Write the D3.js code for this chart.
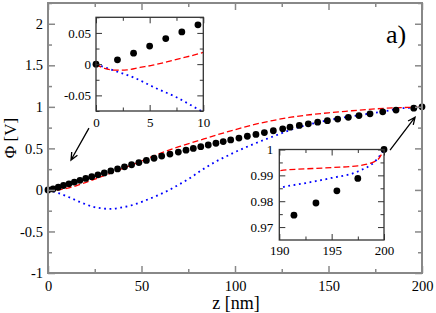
<!DOCTYPE html>
<html>
<head>
<meta charset="utf-8">
<script src="https://cdn.jsdelivr.net/npm/d3@7"></script>
<style>
body { margin: 0; background: #fff; }
svg text { font-family: "Liberation Serif", "Times New Roman", Tinos, "DejaVu Serif", serif; }
</style>
</head>
<body>
<svg width="436" height="313"></svg>
<script>
// main panel symbols (Phi vs z)
const mainZ = [0, 2.7, 5.5, 8.3, 11.2, 14.1, 17.1, 20.2, 23.4, 26.7, 30.1, 33.6, 37.2, 40.9, 44.7, 48.6, 52.6, 56.7,
	60.8, 65.2, 69.7, 73.8, 77.7, 81.7, 85.7, 89.8, 93.7, 97.7, 102.1, 106.6, 111.2, 115.7, 120.5, 125.5,
	129.4, 134.4, 139.2, 144.2, 149.4, 154.9, 160.6, 166.3, 172.2, 179.0, 186.1, 195.6, 200]
const mainPhi = [0, 0.011, 0.032, 0.053, 0.074, 0.095, 0.116, 0.138, 0.16, 0.182, 0.205, 0.229, 0.253, 0.278, 0.303, 0.329, 0.355, 0.381,
	0.408, 0.432, 0.456, 0.478, 0.499, 0.52, 0.541, 0.562, 0.582, 0.602, 0.624, 0.646, 0.668, 0.69, 0.712, 0.735,
	0.755, 0.776, 0.796, 0.816, 0.834, 0.853, 0.874, 0.895, 0.916, 0.94, 0.961, 0.984, 1.0]

// symbols shown in the insets
const leftInsetZ = [0, 2.0, 3.5, 5.0, 6.5, 8.0, 9.5]
const leftInsetPhi = [0, 0.0069, 0.0176, 0.029, 0.041, 0.0516, 0.063]
const rightInsetZ = [191.4, 193.5, 195.5, 197.5, 200]
const rightInsetPhi = [0.9746, 0.9793, 0.984, 0.9888, 1.0]

// red dashed curve
const redZ = [0, 0.8, 1.8, 2.9, 4.1, 5.3, 6.6, 7.8, 9.1, 10, 15, 20, 30, 40, 50, 60, 70, 80, 90, 100,
	110, 120, 130, 140, 150, 160, 170, 180, 190, 195, 197.5, 199.3, 200]
const redPhi = [0, -0.0069, -0.0096, -0.0091, -0.0053, -0.0016, 0.0037, 0.009, 0.0144, 0.0187, 0.05, 0.088, 0.172, 0.258, 0.348, 0.44, 0.52, 0.59, 0.66, 0.725,
	0.785, 0.835, 0.875, 0.905, 0.928, 0.948, 0.967, 0.982, 0.9918, 0.993, 0.9937, 0.9957, 1.0]

// blue dotted curve
const blueZ = [0, 1.3, 3.6, 5.65, 7.5, 9.5, 12, 17, 21, 24, 28, 33, 39, 45, 51, 58, 64, 70.6, 76, 81.3,
	85, 90, 95, 100, 105, 110, 120, 125, 130, 140, 150, 160, 170, 180, 190, 192.5, 195, 197.5, 199.3, 200]
const bluePhi = [0, -0.008, -0.022, -0.039, -0.053, -0.072, -0.095, -0.145, -0.18, -0.203, -0.22, -0.228, -0.213, -0.183, -0.136, -0.072, -0.01, 0.072, 0.144, 0.225,
	0.278, 0.345, 0.4, 0.455, 0.505, 0.553, 0.64, 0.683, 0.725, 0.79, 0.84, 0.878, 0.912, 0.947, 0.985, 0.987, 0.989, 0.9915, 0.9961, 1.0]

// ticks
const mainXTicks = [0, 50, 100, 150, 200]
const mainXMinor = [25, 75, 125, 175]
const mainYTicks = [-1, -0.5, 0, 0.5, 1, 1.5, 2]
const mainYMinor = [-0.75, -0.25, 0.25, 0.75, 1.25, 1.75, 2.25]
const leftXTicks = [0, 5, 10]
const leftXMinor = [2.5, 7.5]
const leftYTicks = [-0.05, 0, 0.05]
const leftYMinor = [-0.075, -0.025, 0.025, 0.075]
const rightXTicks = [190, 195, 200]
const rightXMinor = [192.5, 197.5]
const rightYTicks = [0.97, 0.98, 0.99, 1]
const rightYMinor = [0.975, 0.985, 0.995]

// arrows (z, Phi of tail and head)
const arrowLeft = [[21.9, 0.744], [12.3, 0.36]]
const arrowRight = [[182.9, 0.48], [196.3, 0.876]]

const svg = d3.select("svg")
const red = "#ff0000"
const blue = "#0000ff"
const serif = "'Liberation Serif', 'Times New Roman', Tinos, 'DejaVu Serif', serif"

const toPts = (zs, ps) => zs.map((z, i) => ({ z: z, phi: ps[i] }))
const symbols = toPts(mainZ, mainPhi)
const redData = toPts(redZ, redPhi)
const blueData = toPts(blueZ, bluePhi)

const fmt = (d) => String(d)

const drawFrame = (g, x, y, o) => {
	const [x0, x1] = x.range()
	const [y0, y1] = y.range()
	const axes = [
		[d3.axisBottom(x), o.xTicks, o.xMinor, `translate(0,${y0})`, true, o.padX],
		[d3.axisTop(x), o.xTicks, o.xMinor, `translate(0,${y1})`, false, 0],
		[d3.axisLeft(y), o.yTicks, o.yMinor, `translate(${x0},0)`, true, o.padY],
		[d3.axisRight(y), o.yTicks, o.yMinor, `translate(${x1},0)`, false, 0],
	]
	axes.forEach(([ax, major, minor, tr, labels, pad]) => {
		const a = g.append("g").attr("transform", tr)
			.call(ax.tickValues(major).tickSize(-o.major).tickPadding(pad)
				.tickFormat(labels ? fmt : ""))
		a.attr("font-family", serif)
		a.select(".domain").remove()
		a.selectAll("line").attr("stroke", o.color).attr("stroke-width", o.width)
		a.selectAll("text").attr("fill", "#000").style("font-size", o.font + "px")
			.style("font-family", serif)
		const m = g.append("g").attr("transform", tr)
			.call(ax.tickValues(minor).tickSize(-o.minor).tickFormat(""))
		m.select(".domain").remove()
		m.selectAll("line").attr("stroke", o.color).attr("stroke-width", o.width)
	})
	g.append("rect")
		.attr("x", x0).attr("y", y1)
		.attr("width", x1 - x0).attr("height", y0 - y1)
		.attr("fill", "none").attr("stroke", o.color).attr("stroke-width", o.frameWidth)
}

const drawCurves = (g, x, y, clipId) => {
	const line = d3.line().x((d) => x(d.z)).y((d) => y(d.phi)).curve(d3.curveMonotoneX)
	const lg = g.append("g")
	if (clipId) lg.attr("clip-path", `url(#${clipId})`)
	lg.append("path").attr("d", line(blueData))
		.attr("fill", "none").attr("stroke", blue).attr("stroke-width", 1.8)
		.attr("stroke-dasharray", "1.8,3.6")
	lg.append("path").attr("d", line(redData))
		.attr("fill", "none").attr("stroke", red).attr("stroke-width", 1.3)
		.attr("stroke-dasharray", "6,3")
}

const drawSymbols = (g, x, y, data, r) => {
	g.selectAll(null).data(data).enter().append("circle")
		.attr("cx", (d) => x(d.z)).attr("cy", (d) => y(d.phi))
		.attr("r", r).attr("fill", "#000")
}

const defs = svg.append("defs")
const clip = (id, x, y) => {
	defs.append("clipPath").attr("id", id).append("rect")
		.attr("x", x.range()[0]).attr("y", y.range()[1])
		.attr("width", x.range()[1] - x.range()[0])
		.attr("height", y.range()[0] - y.range()[1])
}

// main panel
const x = d3.scaleLinear().domain([0, 200]).range([48, 422])
const y = d3.scaleLinear().domain([-1, 2.25]).range([273, 3])
const main = svg.append("g")
drawCurves(main, x, y, null)
drawSymbols(main, x, y, symbols, 3.4)
drawFrame(main, x, y, {
	xTicks: mainXTicks, xMinor: mainXMinor, yTicks: mainYTicks, yMinor: mainYMinor,
	major: 7, minor: 4, color: "#888", width: 1.5, frameWidth: 2, font: 14.5, padX: 7.5, padY: 5,
})

svg.append("text").attr("x", 236).attr("y", 309).attr("text-anchor", "middle")
	.style("font-size", "18px").style("font-family", serif).text("z [nm]")
svg.append("text").attr("transform", "translate(16,138) rotate(-90)").attr("text-anchor", "middle")
	.style("font-size", "17px").style("font-family", serif).text("Φ [V]")
svg.append("text").attr("x", 386).attr("y", 43).style("font-size", "26px").style("font-family", serif).text("a)")

// arrows
const drawArrow = (pts) => {
	const [a, b] = pts.map(([z, p]) => [x(z), y(p)])
	const ang = Math.atan2(b[1] - a[1], b[0] - a[0])
	const len = 8, spread = 0.42
	const head = [ang + Math.PI - spread, ang + Math.PI + spread]
		.map((t) => [b[0] + len * Math.cos(t), b[1] + len * Math.sin(t)])
	svg.append("path")
		.attr("d", `M${a[0]},${a[1]}L${b[0]},${b[1]}M${head[0][0]},${head[0][1]}L${b[0]},${b[1]}L${head[1][0]},${head[1][1]}`)
		.attr("fill", "none").attr("stroke", "#000").attr("stroke-width", 1.3)
}
drawArrow(arrowLeft)
drawArrow(arrowRight)

// left inset
const xl = d3.scaleLinear().domain([0, 10]).range([96, 203.3])
const yl = d3.scaleLinear().domain([-0.075, 0.075]).range([111, 17.3])
clip("clipLeft", xl, yl)
const left = svg.append("g")
left.append("rect").attr("x", 96).attr("y", 17.3).attr("width", 107.3).attr("height", 93.7).attr("fill", "#fff")
drawCurves(left, xl, yl, "clipLeft")
drawSymbols(left, xl, yl, toPts(leftInsetZ, leftInsetPhi), 3.4)
drawFrame(left, xl, yl, {
	xTicks: leftXTicks, xMinor: leftXMinor, yTicks: leftYTicks, yMinor: leftYMinor,
	major: 6, minor: 3.5, color: "#333", width: 1, frameWidth: 1.3, font: 13, padX: 6.8, padY: 5,
})

// right inset
const xr = d3.scaleLinear().domain([190, 200]).range([279.3, 384])
const yr = d3.scaleLinear().domain([0.965, 1.0]).range([240, 149.5])
clip("clipRight", xr, yr)
const right = svg.append("g")
right.append("rect").attr("x", 279.3).attr("y", 149.5).attr("width", 104.7).attr("height", 90.5).attr("fill", "#fff")
drawCurves(right, xr, yr, "clipRight")
drawSymbols(right, xr, yr, toPts(rightInsetZ, rightInsetPhi), 3.4)
drawFrame(right, xr, yr, {
	xTicks: rightXTicks, xMinor: rightXMinor, yTicks: rightYTicks, yMinor: rightYMinor,
	major: 6, minor: 3.5, color: "#333", width: 1, frameWidth: 1.3, font: 13, padX: 5.3, padY: 6,
})
</script>
</body>
</html>
